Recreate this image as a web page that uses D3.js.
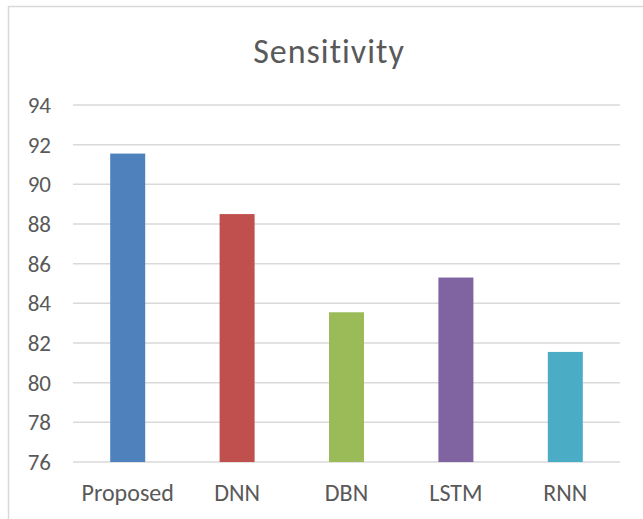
<!DOCTYPE html>
<html>
<head>
<meta charset="utf-8">
<script src="https://cdn.jsdelivr.net/npm/d3@7"></script>
<style>
  body { margin: 0; background: #fff; }
  svg { display: block; font-family: Calibri, Carlito, Lato, sans-serif; }
</style>
</head>
<body>
<div id="chart"></div>
<script>
// Data
const categories = ["Proposed", "DNN", "DBN", "LSTM", "RNN"];
const sensitivity = [91.55, 88.5, 83.55, 85.3, 81.55];
const barColors = ["#4F81BD", "#C0504D", "#9BBB59", "#8064A2", "#4BACC6"];
const yTicks = [76, 78, 80, 82, 84, 86, 88, 90, 92, 94];

const width = 643, height = 519;
const margin = {top: 105, right: 23, bottom: 57, left: 73};
const innerW = width - margin.left - margin.right;
const innerH = height - margin.top - margin.bottom;

const svg = d3.select("#chart").append("svg")
    .attr("width", width)
    .attr("height", height);

// chart frame (runs off the right and bottom edges)
svg.append("rect")
    .attr("x", 8.5).attr("y", 6.5)
    .attr("width", 660).attr("height", 540)
    .attr("fill", "none")
    .attr("stroke", "#d9d9d9")
    .attr("stroke-width", 1.5);

svg.append("text")
    .attr("x", 329)
    .attr("y", 63)
    .attr("text-anchor", "middle")
    .style("font-size", "34px")
    .style("letter-spacing", "1px")
    .style("fill", "#595959")
    .text("Sensitivity");

const g = svg.append("g")
    .attr("transform", `translate(${margin.left},${margin.top})`);

const x = d3.scaleBand()
    .domain(categories)
    .range([0, innerW])
    .paddingInner(0.68)
    .paddingOuter(0.34);

const y = d3.scaleLinear()
    .domain([76, 94])
    .range([innerH, 0]);

// gridlines
g.append("g")
    .selectAll("line")
    .data(yTicks)
    .join("line")
    .attr("x1", 0).attr("x2", innerW)
    .attr("y1", d => y(d)).attr("y2", d => y(d))
    .attr("stroke", "#d9d9d9")
    .attr("stroke-width", 1.5);

// y axis labels
const yAxis = d3.axisLeft(y).tickValues(yTicks).tickSize(0).tickPadding(22);
g.append("g")
    .call(yAxis)
    .call(s => s.select(".domain").remove())
    .selectAll("text")
    .style("font-family", "Calibri, Carlito, Lato, sans-serif")
    .style("font-size", "23px")
    .style("fill", "#595959");

// bars
g.selectAll(".bar")
    .data(categories.map((c, i) => ({cat: c, val: sensitivity[i], color: barColors[i]})))
    .join("rect")
    .attr("class", "bar")
    .attr("x", d => x(d.cat))
    .attr("y", d => y(d.val))
    .attr("width", x.bandwidth())
    .attr("height", d => innerH - y(d.val))
    .attr("fill", d => d.color);

// x axis labels
const xAxis = d3.axisBottom(x).tickSize(0).tickPadding(22);
g.append("g")
    .attr("transform", `translate(0,${innerH})`)
    .call(xAxis)
    .call(s => s.select(".domain").remove())
    .selectAll("text")
    .style("font-family", "Calibri, Carlito, Lato, sans-serif")
    .style("font-size", "24px")
    .style("fill", "#595959");
</script>
</body>
</html>
